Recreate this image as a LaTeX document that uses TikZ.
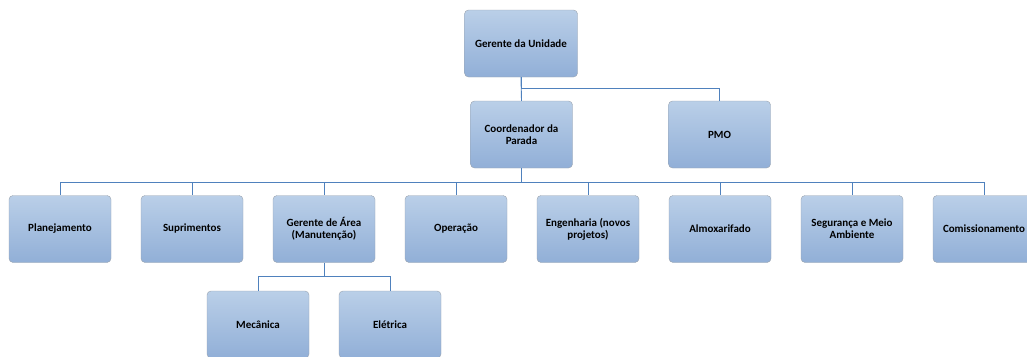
\documentclass[tikz,border=0pt]{standalone}
\usepackage{fontspec}
\setmainfont{Carlito}
\definecolor{boxtop}{HTML}{BACFE8}
\definecolor{boxbot}{HTML}{91AFD7}
\definecolor{boxline}{HTML}{9AA3AE}
\definecolor{linkblue}{HTML}{4F81BD}
\tikzset{
    orgbox/.style={draw=boxline, rounded corners=4pt, top color=boxtop, bottom color=boxbot,
        minimum width=102pt, minimum height=67pt, align=center, inner sep=2pt,
        font=\fontsize{11}{12}\selectfont\bfseries},
    link/.style={draw=linkblue, line width=0.9pt}
}
\begin{document}
\begin{tikzpicture}[x=1pt, y=-1pt]
    \useasboundingbox (0,0) rectangle (1027,356);
    \clip (0,0) rectangle (1027,356);
    % Nodes
    \node[orgbox, minimum width=113pt] at (521, 43.5) (gu) {Gerente da Unidade};
    \node[orgbox] at (521.5, 134.5) (cp) {Coordenador da\\Parada};
    \node[orgbox] at (719.5, 134.5) (pmo) {PMO};

    \node[orgbox] at (60, 229) (plan) {Planejamento};
    \node[orgbox] at (192, 229) (sup) {Suprimentos};
    \node[orgbox] at (324, 229) (ga) {Gerente de Área\\(Manutenção)};
    \node[orgbox] at (456, 229) (op) {Operação};
    \node[orgbox] at (588, 229) (eng) {Engenharia (novos\\projetos)};
    \node[orgbox] at (720, 229) (alm) {Almoxarifado};
    \node[orgbox] at (852, 229) (seg) {Segurança e Meio\\Ambiente};
    \node[orgbox] at (984, 229) (com) {Comissionamento};

    \node[orgbox] at (258, 324.5) (mec) {Mecânica};
    \node[orgbox] at (390, 324.5) (ele) {Elétrica};

    % Connectors
    \draw[link] (gu.south) -- (cp.north);
    \draw[link] (gu.south) -- ++(0,11) -| (pmo.north);
    \draw[link] (cp.south) -- ++(0,14) coordinate (bus);
    \foreach \n in {plan, sup, ga, op, eng, alm, seg, com}
        \draw[link] (bus) -| (\n.north);
    \draw[link] (ga.south) -- ++(0,14) coordinate (sub);
    \foreach \n in {mec, ele}
        \draw[link] (sub) -| (\n.north);
\end{tikzpicture}
\end{document}
